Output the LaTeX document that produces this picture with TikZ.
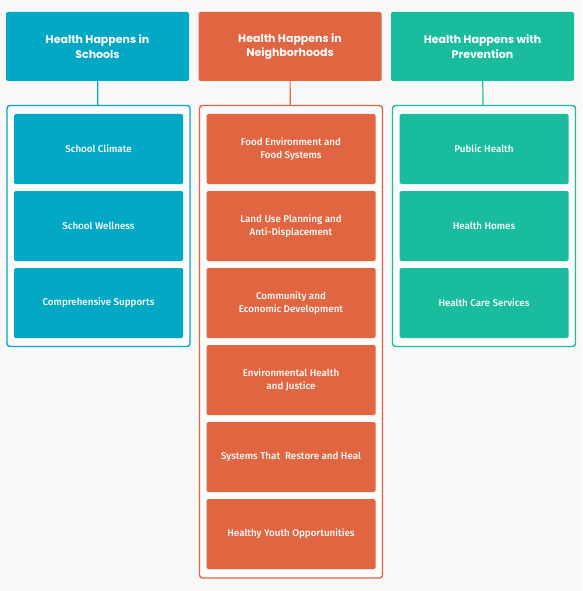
\documentclass[tikz,border=0pt]{standalone}
\usepackage{fontspec}
\setmainfont{Fira Sans}
\newfontfamily\headfont{Poppins}
\newfontfamily\itemfont{Fira Sans Medium}
\usepackage{tikz}

\definecolor{schoolblue}{RGB}{2,168,196}
\definecolor{hoodorange}{RGB}{224,101,64}
\definecolor{prevteal}{RGB}{26,188,158}
\definecolor{pagegray}{RGB}{248,248,248}

\tikzset{
  head/.style={fill=#1, text=white, rounded corners=2pt, inner sep=0pt,
    minimum width=183pt, minimum height=69pt, align=center,
    font=\headfont\bfseries\fontsize{11}{14.5}\selectfont},
  frame/.style={draw=#1, line width=1.4pt, fill=white!60!pagegray,
    rounded corners=3pt, inner sep=0pt, minimum width=183pt},
  item/.style={fill=#1, text=white, rounded corners=1.5pt, inner sep=0pt,
    minimum width=169pt, minimum height=70pt, align=center,
    font=\itemfont\fontsize{9.8}{13}\selectfont},
  link/.style={draw=#1, line width=1.2pt}
}

\begin{document}
\begin{tikzpicture}[x=1pt, y=-1pt]
  \useasboundingbox[fill=pagegray] (0,0) rectangle (582,591);

  % headers
  \node[head=schoolblue] (HS) at (97.5, 46.5) {Health Happens in\\Schools};
  \node[head=hoodorange] (HN) at (290, 46.5) {Health Happens in\\Neighborhoods};
  \node[head=prevteal]   (HP) at (482.5, 46.5) {Health Happens with\\Prevention};

  % frames
  \node[frame=schoolblue, minimum height=241pt]   (FS) at (98.5, 226) {};
  \node[frame=hoodorange, minimum height=472.5pt] (FN) at (291, 341.75) {};
  \node[frame=prevteal, minimum height=241pt]     (FP) at (484, 226) {};

  \draw[link=schoolblue] (HS) -- (FS);
  \draw[link=hoodorange] (HN) -- (FN);
  \draw[link=prevteal]   (HP) -- (FP);

  % schools
  \node[item=schoolblue] (S1) at (98.5, 149) {School Climate};
  \node[item=schoolblue] (S2) at (98.5, 226) {School Wellness};
  \node[item=schoolblue] (S3) at (98.5, 303) {Comprehensive Supports};

  % neighborhoods
  \node[item=hoodorange] (N1) at (291, 149) {Food Environment and\\Food Systems};
  \node[item=hoodorange] (N2) at (291, 226) {Land Use Planning and\\Anti-Displacement};
  \node[item=hoodorange] (N3) at (291, 303) {Community and\\Economic Development};
  \node[item=hoodorange] (N4) at (291, 380) {Environmental Health\\and Justice};
  \node[item=hoodorange] (N5) at (291, 457) {Systems That\ \ Restore and Heal};
  \node[item=hoodorange] (N6) at (291, 534) {Healthy Youth Opportunities};

  % prevention
  \node[item=prevteal] (P1) at (484, 149) {Public Health};
  \node[item=prevteal] (P2) at (484, 226) {Health Homes};
  \node[item=prevteal] (P3) at (484, 303) {Health Care Services};
\end{tikzpicture}
\end{document}
